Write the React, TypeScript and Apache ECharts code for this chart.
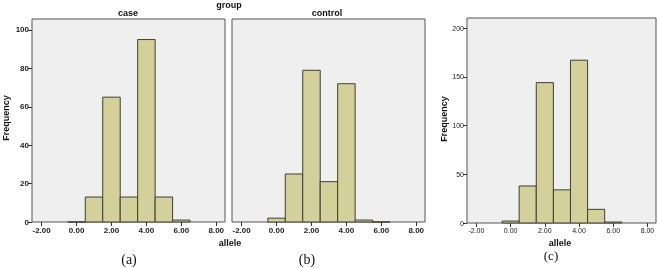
import React, { useEffect, useRef } from "react";
import * as echarts from "echarts";

const alleleBins = [0, 1, 2, 3, 4, 5, 6];
const caseFreq = [0, 13, 65, 13, 95, 13, 1];
const controlFreq = [2, 25, 79, 21, 72, 1, 0];
const totalFreq = [2, 38, 144, 34, 167, 14, 1];
const xTicks = [-2, 0, 2, 4, 6, 8];
const yTicksAB = [0, 20, 40, 60, 80, 100];
const yTicksC = [0, 50, 100, 150, 200];
const panelTitles = ["case", "control"];
const panelCaptions = ["(a)", "(b)", "(c)"];

const FILL = "#d4d09b";
const EDGE = "#3f3f30";
const FONT = "Liberation Sans";

function histSeries(values: number[], idx: number) {
  return {
    type: "custom",
    xAxisIndex: idx,
    yAxisIndex: idx,
    data: alleleBins.map((b, i) => [b, values[i]]),
    renderItem: (params: any, api: any) => {
      const x = api.value(0);
      const y = api.value(1);
      const p0 = api.coord([x - 0.5, y]);
      const p1 = api.coord([x + 0.5, 0]);
      return {
        type: "rect",
        shape: { x: p0[0], y: p0[1], width: p1[0] - p0[0], height: p1[1] - p0[1] },
        style: { fill: FILL, stroke: EDGE, lineWidth: 1 },
      };
    },
  };
}

function xAxis(idx: number, small: boolean) {
  return {
    type: "value",
    gridIndex: idx,
    position: "bottom",
    min: -2.55,
    max: 8.5,
    splitLine: { show: false },
    axisLine: { show: false, onZero: false },
    axisTick: { show: true, customValues: xTicks, length: 4, lineStyle: { color: "#333" } },
    axisLabel: {
      customValues: xTicks,
      formatter: (v: number) => v.toFixed(2),
      fontFamily: FONT,
      fontSize: small ? 7 : 8,
      fontWeight: small ? "normal" : "bold",
      color: "#222",
      margin: 4,
    },
  };
}

function yAxis(idx: number, max: number, ticks: number[], showLabels: boolean, small: boolean) {
  return {
    type: "value",
    gridIndex: idx,
    position: "left",
    min: 0,
    max,
    splitLine: { show: false },
    axisLine: { show: false, onZero: false },
    axisTick: { show: showLabels, customValues: ticks, length: 4, lineStyle: { color: "#333" } },
    axisLabel: {
      show: showLabels,
      customValues: ticks,
      fontFamily: FONT,
      fontSize: small ? 7 : 8,
      fontWeight: small ? "normal" : "bold",
      color: "#222",
      margin: 3,
    },
  };
}

export default function App() {
  const ref = useRef<HTMLDivElement>(null);
  useEffect(() => {
    const chart = echarts.init(ref.current!, null, { renderer: "svg" });
    const gridBase = { show: true, backgroundColor: "#efefef", borderColor: "#555", borderWidth: 1 };
    const boldText = (text: string, x: number, y: number, size = 8, extra: any = {}) => ({
      type: "text",
      x,
      y,
      style: {
        text,
        fontFamily: FONT,
        fontSize: size,
        fontWeight: "bold",
        fill: "#111",
        align: "center",
        verticalAlign: "middle",
        ...extra,
      },
    });
    const caption = (text: string, x: number, y: number, size: number) => ({
      type: "text",
      x,
      y,
      style: {
        text,
        fontFamily: "Liberation Serif",
        fontSize: size,
        fill: "#111",
        align: "center",
        verticalAlign: "middle",
      },
    });
    chart.setOption({
      animation: false,
      grid: [
        { ...gridBase, left: 32, top: 19, width: 193, height: 203 },
        { ...gridBase, left: 232, top: 19, width: 193, height: 203 },
        { ...gridBase, left: 467, top: 18, width: 189, height: 205 },
      ],
      xAxis: [xAxis(0, false), xAxis(1, false), xAxis(2, true)],
      yAxis: [
        yAxis(0, 105.7, yTicksAB, true, false),
        yAxis(1, 105.7, yTicksAB, false, false),
        yAxis(2, 210.3, yTicksC, true, true),
      ],
      series: [histSeries(caseFreq, 0), histSeries(controlFreq, 1), histSeries(totalFreq, 2)],
      graphic: [
        boldText("group", 229, 5, 9),
        boldText(panelTitles[0], 128, 13, 9),
        boldText(panelTitles[1], 327, 13, 9),
        boldText("allele", 230, 243, 9),
        boldText("allele", 560, 243, 9),
        caption(panelCaptions[0], 129, 259, 14),
        caption(panelCaptions[1], 307, 259, 14),
        caption(panelCaptions[2], 551, 255, 13),
        { ...boldText("Frequency", 0, 0, 9), x: 6, y: 118, rotation: Math.PI / 2 },
        { ...boldText("Frequency", 0, 0, 9), x: 444, y: 119, rotation: Math.PI / 2 },
      ],
    });
    return () => chart.dispose();
  }, []);
  return (
    <div
      ref={ref}
      style={{ position: "fixed", left: 0, top: 0, width: 658, height: 268 }}
    />
  );
}
